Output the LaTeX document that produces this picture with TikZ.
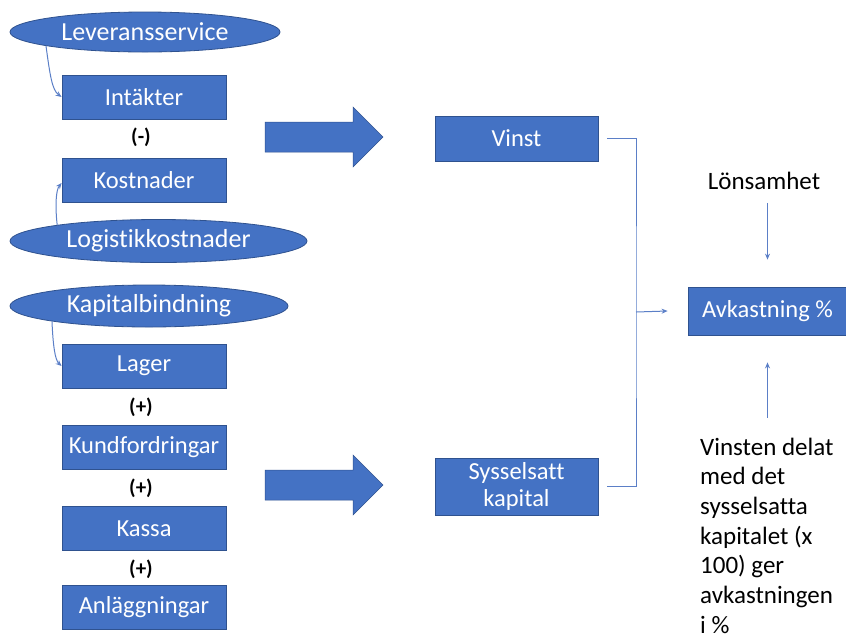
\documentclass[tikz,border=0pt]{standalone}
\usepackage{fontspec}
\setmainfont[Ligatures=NoCommon]{Carlito}
\usetikzlibrary{shapes.geometric,arrows.meta}

\definecolor{boxblue}{HTML}{4472C4}
\definecolor{boxedge}{HTML}{2F528F}
\definecolor{linkblue}{HTML}{5B7FC7}

\tikzset{
  x=1pt, y=-1pt,
  bluebox/.style={draw=boxedge, line width=0.8pt, fill=boxblue, text=white,
    font=\fontsize{24.5}{28}\selectfont, inner sep=0pt, align=center},
  blueoval/.style={ellipse, draw=boxedge, line width=0.8pt, fill=boxblue, text=white,
    font=\fontsize{26}{30}\selectfont, inner sep=0pt},
  sign/.style={font=\bfseries\fontsize{21}{24}\selectfont, text=black, inner sep=0pt},
  plain/.style={font=\fontsize{25}{29.7}\selectfont, text=black, inner sep=0pt},
  link/.style={draw=linkblue, line width=1pt},
  linkarrow/.style={link, -{Stealth[length=6pt,width=5pt]}},
  bigarrow/.style={fill=boxblue, draw=boxedge, line width=0.5pt},
}

\begin{document}
\begin{tikzpicture}
\useasboundingbox (0,0) rectangle (846,641);

% left column: ovals and value boxes
\node[blueoval, minimum width=270pt, minimum height=40pt] (lev) at (145,32) {Leveransservice};
\node[bluebox, minimum width=164pt, minimum height=44pt] (int) at (144,97) {Intäkter};
\node[sign] (minus) at (141,137) {(-)};
\node[bluebox, minimum width=164pt, minimum height=44pt] (kos) at (144,180) {Kostnader};
\node[blueoval, minimum width=297pt, minimum height=43pt] (log) at (158.5,241) {Logistikkostnader};

\node[blueoval, minimum width=278pt, minimum height=42pt] (kap) at (149,306) {Kapitalbindning};
\node[bluebox, minimum width=164pt, minimum height=44pt] (lag) at (144,366) {Lager};
\node[sign] (p1) at (141,407) {(+)};
\node[bluebox, minimum width=164pt, minimum height=44pt] (kund) at (144,447) {Kundfordringar};
\node[sign] (p2) at (141,488) {(+)};
\node[bluebox, minimum width=164pt, minimum height=44pt] (kas) at (144,528.5) {Kassa};
\node[sign] (p3) at (141,569) {(+)};
\node[bluebox, minimum width=164pt, minimum height=44pt] (anl) at (144,607) {Anläggningar};

% curved links from the ovals
\draw[linkarrow] (lev.188) .. controls (50,75) and (52,90) .. (int.west);
\draw[linkarrow] (log.171) .. controls (55,205) and (56,190) .. ([yshift=-3pt]kos.west);
\draw[linkarrow] (kap.189) .. controls (53,345) and (55,360) .. (lag.west);

% block arrows
\filldraw[bigarrow] (265,122) -- (353,122) -- (353,107) -- (383,137)
  -- (353,167) -- (353,152) -- (265,152) -- cycle;
\filldraw[bigarrow] (265,470) -- (353,470) -- (353,455) -- (383,485)
  -- (353,515) -- (353,500) -- (265,500) -- cycle;

% middle column
\node[bluebox, minimum width=163pt, minimum height=45pt] (vin) at (516.5,138.5) {Vinst};
\node[bluebox, minimum width=163pt, minimum height=57pt, font=\fontsize{24.5}{27.5}\selectfont]
  (sys) at (516.5,486.5) {Sysselsatt\\kapital};

% right column
\node[bluebox, minimum width=159pt, minimum height=48pt] (avk) at (767.5,311) {Avkastning \%};
\node[plain] (lon) at (764,181) {Lönsamhet};
\node[plain, anchor=north west, align=left] (txt) at (700,437.5)
  {Vinsten delat\\med det\\sysselsatta\\kapitalet (x\\100) ger\\avkastningen\\i \%};

% bracket joining profit and capital
\coordinate (jn) at (636,312);
\draw[link] ([xshift=9pt]vin.east) -| (jn) |- ([xshift=9pt]sys.east);
\draw[linkarrow] (jn) -- ([xshift=-20pt]avk.west);

% vertical arrows into the result
\draw[linkarrow] ([yshift=-13pt]lon.south -| avk.north) -- ([yshift=27pt]avk.north);
\draw[linkarrow] ([yshift=20pt]txt.north -| avk.south) -- ([yshift=-27pt]avk.south);
\end{tikzpicture}
\end{document}
